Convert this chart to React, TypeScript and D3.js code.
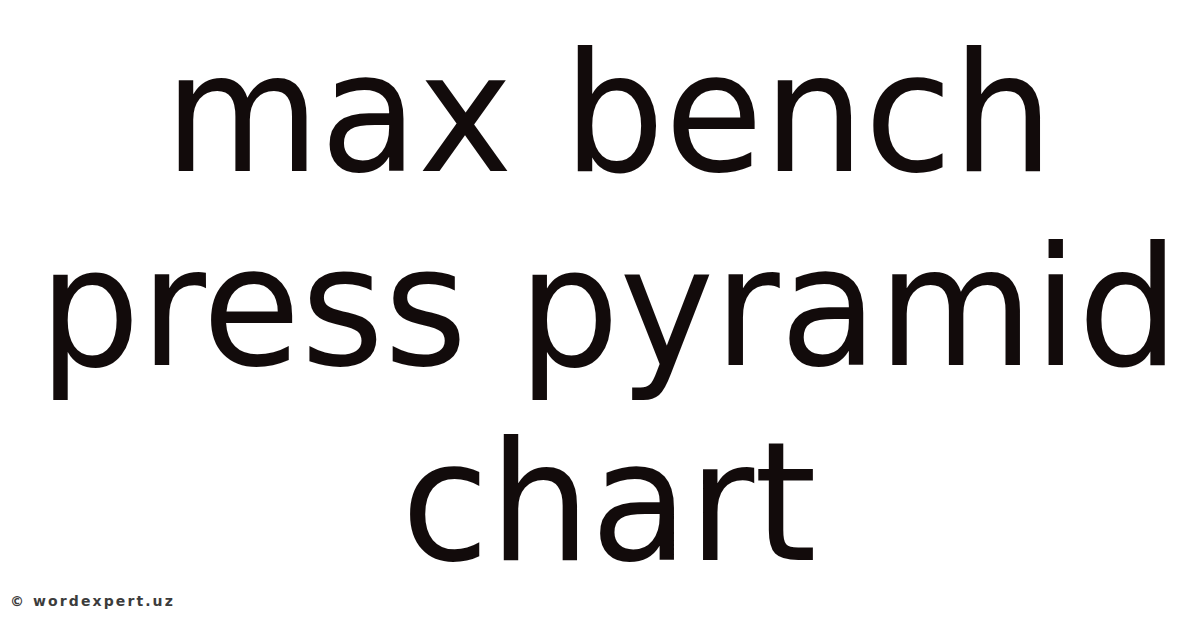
import * as d3 from 'd3';

const TITLE_LINES: string[] = ['max bench', 'press pyramid', 'chart'];
const WATERMARK = '© wordexpert.uz';

export default function App() {
  const w = 1200;
  const h = 628;
  const cx = 609;

  // one band per title line, baselines spaced evenly
  const y = d3.scalePoint<string>()
    .domain(TITLE_LINES)
    .range([171, 560]);

  return (
    <svg
      width={w}
      height={h}
      style={{ position: 'absolute', left: 0, top: 0, background: '#ffffff' }}
    >
      <rect width={w} height={h} fill="#ffffff" />

      {/* Title — glyphs slightly condensed, as in the source image */}
      <g transform={`translate(${cx},0) scale(0.963,1)`}>
        {TITLE_LINES.map(line => (
          <text
            key={line}
            x={0}
            y={y(line) ?? 0}
            textAnchor="middle"
            fontSize={166}
            fontFamily="'DejaVu Sans', sans-serif"
            fill="#120b0b"
          >
            {line}
          </text>
        ))}
      </g>

      {/* Watermark */}
      <text
        x={10}
        y={606}
        fontSize={14}
        fontFamily="'DejaVu Sans', sans-serif"
        fontWeight={600}
        letterSpacing={2.1}
        fill="#3c3c3c"
      >
        {WATERMARK}
      </text>
    </svg>
  );
}
